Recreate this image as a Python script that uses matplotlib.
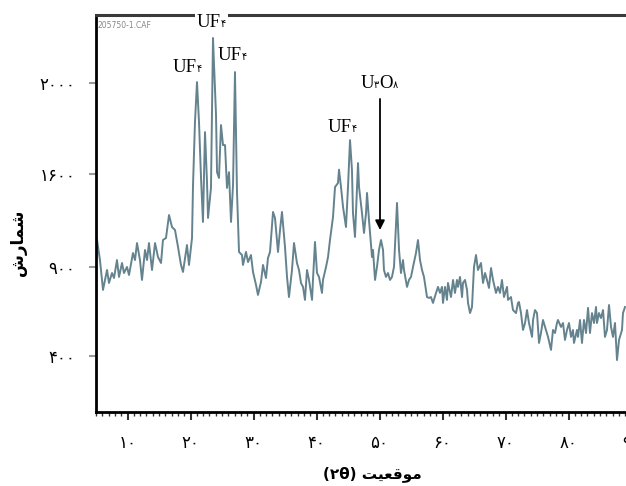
import numpy as np
import matplotlib
matplotlib.use("Agg")
import matplotlib.pyplot as plt
from matplotlib.ticker import MultipleLocator, FixedLocator, FixedFormatter
from matplotlib.offsetbox import TextArea, HPacker, AnnotationBbox

# ---- data (2-theta, counts) ----
two_theta = [5.16, 5.63, 6.11, 6.75, 7.06, 7.54, 7.86, 8.33, 8.65, 9.13, 9.44, 9.92, 10.24,
             10.87, 11.19, 11.51, 11.98, 12.30, 12.78, 13.10, 13.41, 13.89, 14.37, 14.84,
             15.32, 15.63, 16.11, 16.59, 17.06, 17.54, 18.02, 18.49, 18.81, 19.44, 19.76,
             20.24, 20.40, 20.71, 21.03, 21.35, 21.67, 21.98, 22.30, 22.62, 22.78, 23.25,
             23.57, 24.05, 24.21, 24.52, 24.84, 25.16, 25.48, 25.79, 26.11, 26.43, 26.75,
             27.06, 27.38, 27.70, 28.17, 28.33, 28.81, 29.13, 29.60, 29.92, 30.40, 30.71,
             31.19, 31.51, 31.98, 32.30, 32.62, 33.10, 33.41, 33.89, 34.21, 34.52, 35.00,
             35.32, 35.63, 36.11, 36.43, 36.90, 37.22, 37.54, 37.86, 38.17, 38.49, 38.81,
             39.29, 39.44, 39.76, 40.08, 40.40, 40.87, 41.03, 41.51, 41.83, 42.14, 42.62,
             42.94, 43.41, 43.57, 43.89, 44.21, 44.68, 45.00, 45.32, 45.63, 45.79, 46.11,
             46.59, 46.75, 47.22, 47.54, 47.86, 48.02, 48.33, 48.81, 48.97, 49.29, 49.60,
             49.92, 50.24, 50.56, 50.71, 51.03, 51.35, 51.67, 51.98, 52.30, 52.78, 53.10,
             53.41, 53.73, 53.89, 54.37, 54.68, 55.00, 55.32, 55.79, 56.11, 56.43, 56.75,
             57.06, 57.54, 57.86, 58.17, 58.49, 58.97, 59.29, 59.60, 59.92, 60.08, 60.40,
             60.71, 60.87, 61.35, 61.67, 61.98, 62.30, 62.46, 62.78, 63.10, 63.25, 63.57,
             63.89, 64.05, 64.37, 64.68, 65.00, 65.32, 65.63, 66.11, 66.43, 66.75, 67.06,
             67.38, 67.70, 68.02, 68.49, 68.81, 69.13, 69.44, 69.76, 70.24, 70.40, 70.87,
             71.19, 71.67, 71.98, 72.14, 72.46, 72.78, 73.10, 73.41, 73.73, 74.21, 74.37,
             74.68, 75.00, 75.32, 75.63, 75.95, 76.43, 76.75, 77.22, 77.54, 77.86, 78.17,
             78.33, 78.81, 79.13, 79.44, 79.76, 80.08, 80.40, 80.71, 80.87, 81.35, 81.51,
             81.83, 82.14, 82.46, 82.78, 83.10, 83.41, 83.73, 84.05, 84.37, 84.52, 84.84,
             85.16, 85.48, 85.79, 86.11, 86.43, 86.75, 87.06, 87.38, 87.70, 88.02, 88.49,
             88.65, 88.97]
counts = [1103, 952, 771, 883, 810, 866, 838, 952, 844, 930, 866, 900, 855,
          1005, 952, 1080, 952, 827, 1028, 952, 1080, 883, 1080, 975,
          930, 1103, 1118, 1291, 1201, 1178, 1050, 915, 872, 1065, 915,
          1118, 1517, 1828, 2004, 1828, 1570, 1239, 1784, 1540, 1269, 1495,
          2198, 1859, 1608, 1570, 1815, 1727, 1727, 1495, 1608, 1239, 1517,
          2048, 1464, 1013, 990, 915, 1013, 937, 990, 872, 799, 743,
          816, 915, 838, 968, 1013, 1314, 1269, 1013, 1178, 1314, 1050,
          844, 731, 883, 1080, 930, 883, 810, 788, 715, 883, 827,
          715, 827, 1088, 866, 844, 754, 827, 900, 975, 1103, 1276,
          1502, 1532, 1619, 1502, 1352, 1201, 1502, 1749, 1617, 1306, 1126,
          1648, 1502, 1306, 1156, 1306, 1457, 1254, 975, 1028, 827, 900,
          1028, 1103, 1028, 883, 844, 866, 827, 844, 900, 1382, 1028,
          866, 952, 883, 788, 827, 844, 900, 1005, 1103, 952, 883,
          844, 731, 726, 731, 698, 754, 788, 754, 788, 698, 788,
          715, 810, 731, 827, 754, 827, 788, 844, 731, 810, 827,
          771, 698, 641, 675, 900, 990, 883, 930, 810, 866, 827,
          782, 894, 827, 754, 788, 754, 827, 731, 788, 715, 731,
          658, 641, 698, 703, 641, 546, 585, 658, 585, 507, 602,
          658, 641, 473, 529, 602, 546, 507, 434, 546, 529, 585,
          602, 563, 585, 490, 546, 585, 507, 546, 473, 546, 507,
          602, 473, 602, 529, 670, 529, 641, 585, 675, 585, 641,
          613, 658, 507, 546, 686, 563, 507, 585, 377, 490, 546,
          641, 675]

x_ticks = [10, 20, 30, 40, 50, 60, 70, 80, 90]
x_tick_labels = ['۱۰', '۲۰', '۳۰', '۴۰', '۵۰', '۶۰', '۷۰', '۸۰', '۹۰']
y_ticks = [400, 900, 1600, 2000]
y_tick_labels = ['۴۰۰', '۹۰۰', '۱۶۰۰', '۲۰۰۰']

# peak labels: (text parts, 2theta, counts)
peak_labels = [
    (['UF', '۴'], 19.52, 2070),
    (['UF', '۴'], 23.33, 2264),
    (['UF', '۴'], 26.59, 2119),
    (['UF', '۴'], 44.05, 1806),
    (['U', '۳', 'O', '۸'], 49.92, 2000),
]
arrow_x = 50.08
arrow_from = 1930
arrow_to = 1178

# labels in Arabic script (presentation forms, visual order)
ylabel_text = '\ufeb5\ufead\ufe8e\ufee4\ufeb7'           # شمارش
xlabel_text = '(۲θ) ' + '\ufe96\ufbff\ufecc\ufed7\ufeee\ufee3'  # موقعیت (۲θ)

# ---- piecewise-linear count scale (ticks equally spaced as in the original) ----
kc = np.array([400.0, 900.0, 1600.0, 2000.0])
kp = np.array([0.0, 89.0, 182.0, 273.0])

def fwd(y):
    y = np.asarray(y, dtype=float)
    r = np.interp(y, kc, kp)
    r = np.where(y < kc[0], kp[0] + (y - kc[0]) * (kp[1] - kp[0]) / (kc[1] - kc[0]), r)
    r = np.where(y > kc[-1], kp[-1] + (y - kc[-1]) * (kp[-1] - kp[-2]) / (kc[-1] - kc[-2]), r)
    return r

def inv(p):
    p = np.asarray(p, dtype=float)
    r = np.interp(p, kp, kc)
    r = np.where(p < kp[0], kc[0] + (p - kp[0]) * (kc[1] - kc[0]) / (kp[1] - kp[0]), r)
    r = np.where(p > kp[-1], kc[-1] + (p - kp[-1]) * (kc[-1] - kc[-2]) / (kp[-1] - kp[-2]), r)
    return r

W, H = 626, 486
fig = plt.figure(figsize=(W / 100, H / 100), dpi=100)
ax = fig.add_axes([96 / W, 74 / H, 535.5 / W, 397 / H])
ax.set_yscale('function', functions=(fwd, inv))

ax.plot(two_theta, counts, color='#64838e', lw=1.4, zorder=2)

ax.set_xlim(5, 90)
ax.set_ylim(85, 2299)

ax.xaxis.set_major_locator(FixedLocator(x_ticks))
ax.xaxis.set_major_formatter(FixedFormatter(x_tick_labels))
ax.xaxis.set_minor_locator(MultipleLocator(1))
ax.yaxis.set_major_locator(FixedLocator(y_ticks))
ax.yaxis.set_major_formatter(FixedFormatter(y_tick_labels))
ax.yaxis.set_minor_locator(FixedLocator([]))

ax.tick_params(axis='x', which='major', direction='out', length=6, width=1.5,
               color='#333333', pad=10, labelsize=12)
ax.tick_params(axis='x', which='minor', direction='out', length=3, width=1.0,
               color='#333333')
ax.tick_params(axis='y', which='major', direction='out', length=5, width=1.5,
               color='#999999', pad=10, labelsize=12)
for lab in ax.get_xticklabels() + ax.get_yticklabels():
    lab.set_family(['DejaVu Sans'])

ax.spines['right'].set_visible(False)
for s in ('left', 'bottom'):
    ax.spines[s].set_linewidth(2.0)
    ax.spines[s].set_color('black')
ax.spines['top'].set_linewidth(2.2)
ax.spines['top'].set_color('#3a3a3a')

ax.text(0.003, 0.985, '205750-1.CAF', transform=ax.transAxes, fontsize=5.5,
        color='#888888', ha='left', va='top')

# peak labels
serif = ['Liberation Serif', 'DejaVu Sans']
for parts, px, py in peak_labels:
    children = []
    for p in parts:
        if p.isascii():
            children.append(TextArea(p, textprops=dict(fontsize=13.5, family=serif)))
        else:
            children.append(TextArea(p, textprops=dict(fontsize=7, family=['DejaVu Sans'])))
    box = HPacker(children=children, align='baseline', pad=0, sep=0)
    ab = AnnotationBbox(box, (px, py), xycoords='data', frameon=True, pad=0.15,
                        bboxprops=dict(fc='white', ec='none'), annotation_clip=False,
                        zorder=6)
    ax.add_artist(ab)

ax.annotate('', xy=(arrow_x, arrow_to), xytext=(arrow_x, arrow_from),
            arrowprops=dict(arrowstyle='-|>', color='black', lw=1.3,
                            mutation_scale=14, shrinkA=0, shrinkB=0), zorder=7)

fig.text(18 / W, 1 - 243 / H, ylabel_text, rotation=90, fontsize=12, fontweight='bold',
         family=['DejaVu Sans'], ha='center', va='center')
fig.text(372 / W, 1 - 474 / H, xlabel_text, fontsize=11, fontweight='bold',
         family=['DejaVu Sans'], ha='center', va='center')

fig.savefig('out.png', dpi=100)
